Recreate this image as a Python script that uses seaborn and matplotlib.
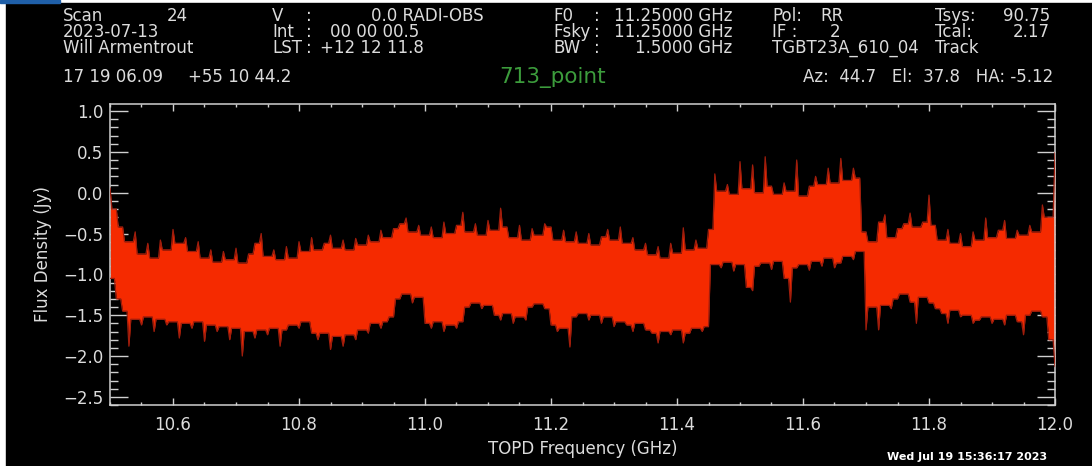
import numpy as np
import pandas as pd
import matplotlib
matplotlib.use("Agg")
import matplotlib.pyplot as plt
from matplotlib.ticker import MultipleLocator
from matplotlib.patches import Rectangle
import seaborn as sns

# --- data (channel grid every 0.01 GHz) ---
freq_ghz = np.round(np.linspace(10.50, 12.00, 151), 2)

# upper tips of the noise band (Jy)
flux_hi = [
    0.06, -0.20, -0.42, -0.60, -0.48, -0.75, -0.62, -0.80, -0.58, -0.70,
    -0.45, -0.62, -0.55, -0.72, -0.60, -0.80, -0.70, -0.85, -0.72, -0.82,
    -0.68, -0.86, -0.75, -0.62, -0.50, -0.78, -0.70, -0.82, -0.66, -0.80,
    -0.60, -0.72, -0.55, -0.70, -0.62, -0.52, -0.68, -0.58, -0.70, -0.56,
    -0.64, -0.52, -0.60, -0.46, -0.55, -0.44, -0.38, -0.31, -0.48, -0.40,
    -0.52, -0.42, -0.55, -0.36, -0.50, -0.40, -0.24, -0.48, -0.38, -0.52,
    -0.34, -0.46, -0.19, -0.42, -0.55, -0.40, -0.58, -0.44, -0.52, -0.38,
    -0.42, -0.58, -0.46, -0.60, -0.48, -0.62, -0.50, -0.64, -0.54, -0.45,
    -0.58, -0.42, -0.62, -0.55, -0.70, -0.62, -0.76, -0.66, -0.80, -0.62,
    -0.74, -0.43, -0.70, -0.58, -0.68, -0.45, 0.23, 0.02, 0.10, -0.02,
    0.38, 0.05, 0.34, 0.00, 0.44, 0.08, -0.02, 0.12, 0.02, 0.40,
    -0.04, 0.08, 0.20, 0.10, 0.30, 0.12, 0.42, 0.15, 0.30, 0.18,
    -0.48, -0.60, -0.36, -0.27, -0.55, -0.44, -0.38, -0.25, -0.42, -0.36,
    -0.03, -0.40, -0.58, -0.45, -0.62, -0.50, -0.66, -0.48, -0.58, -0.31,
    -0.55, -0.46, -0.34, -0.56, -0.46, -0.52, -0.40, -0.48, -0.15, -0.30,
    0.49,
]

# lower tips of the noise band (Jy)
flux_lo = [
    -1.05, -1.30, -1.45, -1.88, -1.55, -1.62, -1.52, -1.70, -1.55, -1.62,
    -1.58, -1.78, -1.60, -1.66, -1.58, -1.82, -1.62, -1.70, -1.64, -1.80,
    -1.66, -2.00, -1.70, -1.78, -1.68, -1.74, -1.66, -1.88, -1.68, -1.62,
    -1.66, -1.58, -1.72, -1.80, -1.72, -1.92, -1.76, -1.88, -1.74, -1.80,
    -1.68, -1.72, -1.60, -1.66, -1.58, -1.52, -1.30, -1.24, -1.35, -1.28,
    -1.60, -1.66, -1.58, -1.70, -1.62, -1.66, -1.58, -1.40, -1.35, -1.42,
    -1.38, -1.50, -1.56, -1.48, -1.60, -1.52, -1.56, -1.40, -1.36, -1.42,
    -1.62, -1.70, -1.66, -1.89, -1.52, -1.48, -1.56, -1.50, -1.60, -1.52,
    -1.64, -1.58, -1.62, -1.70, -1.60, -1.68, -1.72, -1.84, -1.70, -1.74,
    -1.68, -1.84, -1.72, -1.66, -1.70, -1.64, -0.88, -0.92, -0.85, -0.96,
    -0.88, -1.16, -1.20, -0.90, -0.86, -0.94, -0.84, -1.05, -1.34, -0.92,
    -0.88, -0.95, -0.84, -0.90, -0.80, -0.92, -0.86, -0.78, -0.82, -0.72,
    -1.68, -1.40, -1.68, -1.38, -1.42, -1.30, -1.24, -1.34, -1.60, -1.28,
    -1.35, -1.42, -1.48, -1.60, -1.44, -1.52, -1.50, -1.60, -1.56, -1.52,
    -1.60, -1.55, -1.62, -1.50, -1.58, -1.74, -1.50, -1.45, -1.52, -1.80,
    -2.13,
]

# header block, (x px, y px, text, ha)
header_left = [
    (63, 16, "Scan", "left"), (188, 16, "24", "right"),
    (63, 32, "2023-07-13", "left"),
    (63, 48, "Will Armentrout", "left"),
    (63, 77, "17 19 06.09", "left"), (188, 77, "+55 10 44.2", "left"),
]
header_mid = [
    (272, 16, "V", "left"), (306, 16, ":", "left"), (484, 16, "0.0 RADI-OBS", "right"),
    (272, 32, "Int", "left"), (306, 32, ":", "left"), (330, 32, "00 00 00.5", "left"),
    (272, 48, "LST", "left"), (306, 48, ":", "left"), (320, 48, "+12 12 11.8", "left"),
]
header_right = [
    (553, 16, "F0", "left"), (594, 16, ":", "left"), (732, 16, "11.25000 GHz", "right"),
    (553, 32, "Fsky", "left"), (594, 32, ":", "left"), (732, 32, "11.25000 GHz", "right"),
    (553, 48, "BW", "left"), (594, 48, ":", "left"), (732, 48, "1.5000 GHz", "right"),
    (772, 16, "Pol:", "left"), (820, 16, "RR", "left"),
    (772, 32, "IF :", "left"), (830, 32, "2", "left"),
    (772, 48, "TGBT23A_610_04", "left"),
    (935, 16, "Tsys:", "left"), (1050, 16, "90.75", "right"),
    (935, 32, "Tcal:", "left"), (1050, 32, "2.17", "right"),
    (935, 48, "Track", "left"),
    (1053, 77, "Az:  44.7   El:  37.8   HA: -5.12", "right"),
]
source_name = "713_point"
date_stamp = "Wed Jul 19 15:36:17 2023"

# --- outline of the band: each channel tip is a narrow spike, and between
# two channels the trace sits at the smaller of the two tips ---
hi = np.array(flux_hi)
lo = np.array(flux_lo)
d = 0.003
xs, ys_hi, ys_lo = [], [], []
for i in range(len(freq_ghz) - 1):
    f0, f1 = freq_ghz[i], freq_ghz[i + 1]
    v_hi = min(hi[i], hi[i + 1])
    v_lo = max(lo[i], lo[i + 1])
    xs += [f0, f0 + d, f1 - d]
    ys_hi += [hi[i], v_hi, v_hi]
    ys_lo += [lo[i], v_lo, v_lo]
xs.append(freq_ghz[-1])
ys_hi.append(hi[-1])
ys_lo.append(lo[-1])
band = pd.DataFrame({"freq": xs, "hi": ys_hi, "lo": ys_lo})

W, H = 1092, 466
txt_col = "#dcdcdc"
axis_col = "#d0d0d0"
band_col = "#f52a00"
edge_col = "#a01d0c"

sns.set_theme(style="ticks")
plt.rcParams["font.family"] = ["DejaVu Sans"]

fig = plt.figure(figsize=(W / 100, H / 100), dpi=100, facecolor="white")
# black plot window of the screenshot (thin white strips on left and top)
fig.patches.append(Rectangle((6 / W, 0), 1 - 6 / W, 1 - 3 / H,
                             transform=fig.transFigure, color="black", zorder=-10))
fig.patches.append(Rectangle((0, 1 - 3 / H), 60 / W, 3 / H,
                             transform=fig.transFigure, color="#1f5fa8", zorder=-10))

ax = fig.add_axes([110 / W, 1 - 405 / H, (1055 - 110) / W, (405 - 104) / H])
ax.set_zorder(5)
ax.set_facecolor("black")

ax.fill_between(band["freq"], band["lo"], band["hi"], color=band_col, lw=0, zorder=2)
sns.lineplot(data=band, x="freq", y="hi", color=edge_col, lw=0.9, ax=ax,
             estimator=None, sort=False, zorder=3)
sns.lineplot(data=band, x="freq", y="lo", color=edge_col, lw=0.9, ax=ax,
             estimator=None, sort=False, zorder=3)

ax.set_xlim(10.5, 12.0)
ax.set_ylim(-2.6, 1.086)
ax.xaxis.set_major_locator(MultipleLocator(0.2))
ax.xaxis.set_minor_locator(MultipleLocator(0.05))
ax.yaxis.set_major_locator(MultipleLocator(0.5))
ax.yaxis.set_minor_locator(MultipleLocator(0.1))
ax.tick_params(axis="both", which="both", direction="in", colors=axis_col,
               labelcolor=txt_col, labelsize=12, width=1.0,
               top=True, right=True)
ax.tick_params(axis="x", which="major", length=5, pad=8)
ax.tick_params(axis="x", which="minor", length=2.5)
ax.tick_params(axis="y", which="major", length=13, pad=5)
ax.tick_params(axis="y", which="minor", length=6)
ax.set_xticks([10.6, 10.8, 11.0, 11.2, 11.4, 11.6, 11.8, 12.0])
ax.set_xticklabels(["10.6", "10.8", "11.0", "11.2", "11.4", "11.6", "11.8", "12.0"])
for s in ax.spines.values():
    s.set_color(axis_col)
    s.set_linewidth(1.1)

ax.set_xlabel("TOPD Frequency (GHz)", color=txt_col, fontsize=12, labelpad=4)
ax.set_ylabel("Flux Density (Jy)", color=txt_col, fontsize=12, labelpad=8)

for x, y, s, ha in header_left + header_mid + header_right:
    fig.text(x / W, 1 - y / H, s, color=txt_col, fontsize=12, ha=ha, va="center")

fig.text(553 / W, 1 - 77 / H, source_name, color="#3c9c3c", fontsize=15.5,
         ha="center", va="center")
fig.text(1047 / W, 1 - 457 / H, date_stamp, color="white", fontsize=8,
         ha="right", va="center", fontweight="bold")

fig.savefig("out.png", dpi=100, facecolor=fig.get_facecolor())
